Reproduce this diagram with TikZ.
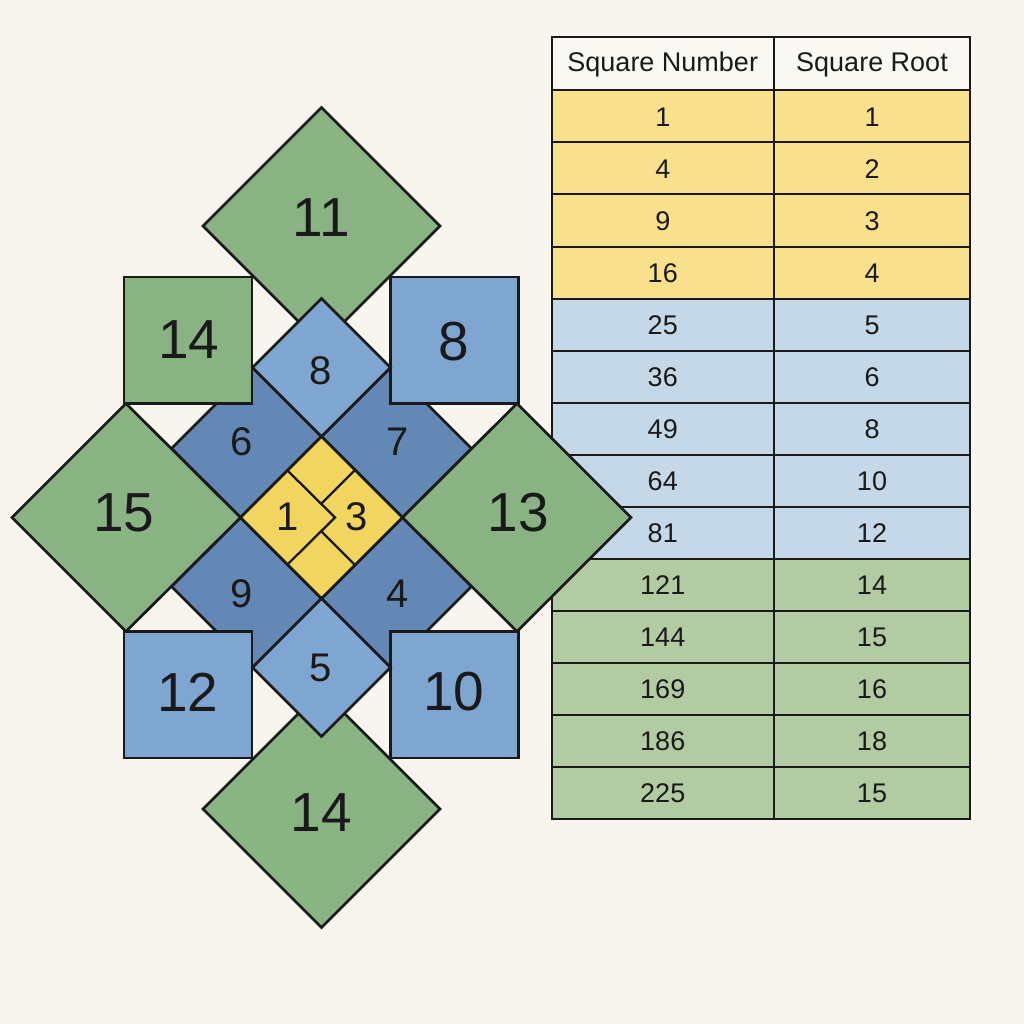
\documentclass[tikz,border=0pt]{standalone}
\usepackage{fontspec}
\setmainfont{Liberation Sans}
\definecolor{bgc}{HTML}{F8F5EE}
\definecolor{ink}{HTML}{1A1A1A}
\definecolor{gr}{HTML}{8AB384}
\definecolor{db}{HTML}{6488B5}
\definecolor{lb}{HTML}{7FA5D1}
\definecolor{ye}{HTML}{F2D55E}
\definecolor{tye}{HTML}{F8E08C}
\definecolor{tbl}{HTML}{C5D8E8}
\definecolor{tgr}{HTML}{B2CBA3}
\definecolor{thd}{HTML}{FAF8F3}
\begin{document}
\begin{tikzpicture}[x=1pt,y=-1pt,
  tile/.style={draw=ink, line width=2.7pt, line join=miter},
  cellbox/.style={draw=ink, line width=2pt},
  thin/.style={draw=ink, line width=2.3pt, line join=miter},
  biglab/.style={font=\fontsize{55}{55}\selectfont, text=ink, inner sep=0pt},
  midlab/.style={font=\fontsize{40}{40}\selectfont, text=ink, inner sep=0pt},
  tablab/.style={font=\fontsize{27}{27}\selectfont, text=ink, inner sep=0pt}]
\useasboundingbox (0,0) rectangle (1024,1024);
\fill[bgc] (0,0) rectangle (1024,1024);

% ---------- table ----------
\path[cellbox, fill=thd] (551.5,37) rectangle (774,90.5);
\path[cellbox, fill=thd] (774,37) rectangle (970,90.5);
\node[tablab] (hA) at (662.75,65) {Square Number};
\node[tablab] (hB) at (872,65) {Square Root};
\foreach \i/\a/\b/\c in {1/1/1/tye,2/4/2/tye,3/9/3/tye,4/16/4/tye,
  5/25/5/tbl,6/36/6/tbl,7/49/8/tbl,8/64/10/tbl,9/81/12/tbl,
  10/121/14/tgr,11/144/15/tgr,12/169/16/tgr,13/186/18/tgr,14/225/15/tgr}{
  \pgfmathsetmacro{\yt}{90.5+52*(\i-1)}
  \pgfmathsetmacro{\yb}{90.5+52*\i}
  \pgfmathsetmacro{\ym}{90.5+52*(\i-0.5)+1}
  \path[cellbox, fill=\c] (551.5,\yt) rectangle (774,\yb);
  \path[cellbox, fill=\c] (774,\yt) rectangle (970,\yb);
  \node[tablab] (ra\i) at (662.75,\ym) {\a};
  \node[tablab] (rb\i) at (872,\ym) {\b};
}

% ---------- outer green diamonds (top / bottom) ----------
\path[tile, fill=gr] (321.5,107.5) -- (440,226) -- (321.5,344.5) -- (203,226) -- cycle;
\path[tile, fill=gr] (321.5,690.5) -- (440,809) -- (321.5,927.5) -- (203,809) -- cycle;

% ---------- dark blue pieces ----------
\path[tile, fill=db] (240.5,517.5) -- (321.5,436.5) -- (252.5,367.5) -- (171.5,448.5) -- cycle;
\path[tile, fill=db] (402.5,517.5) -- (321.5,436.5) -- (390.5,367.5) -- (471.5,448.5) -- cycle;
\path[tile, fill=db] (240.5,517.5) -- (321.5,598.5) -- (252.5,667.5) -- (171.5,586.5) -- cycle;
\path[tile, fill=db] (402.5,517.5) -- (321.5,598.5) -- (390.5,667.5) -- (471.5,586.5) -- cycle;

% ---------- side green diamonds ----------
\path[tile, fill=gr] (126,403.5) -- (240.5,517.5) -- (126,631.5) -- (12,517.5) -- cycle;
\path[tile, fill=gr] (517,403.5) -- (631,517.5) -- (517,631.5) -- (402.5,517.5) -- cycle;

% ---------- squares ----------
\path[tile, fill=gr] (124,277) rectangle (252,403.5);
\path[tile, fill=lb] (390.5,277) rectangle (518.5,403.5);
\path[tile, fill=lb] (124,631.5) rectangle (252,758);
\path[tile, fill=lb] (390.5,631.5) rectangle (518.5,758);

% ---------- light blue small diamonds ----------
\path[tile, fill=lb] (321.5,298.5) -- (390.5,367.5) -- (321.5,436.5) -- (252.5,367.5) -- cycle;
\path[tile, fill=lb] (321.5,598.5) -- (390.5,667.5) -- (321.5,736.5) -- (252.5,667.5) -- cycle;

% ---------- yellow centre ----------
\path[tile, fill=ye] (321.5,436.5) -- (402.5,517.5) -- (321.5,598.5) -- (240.5,517.5) -- cycle;
\draw[thin] (287.5,470.5) -- (335,517.5) -- (287.5,564.5);
\draw[thin] (355,470) -- (321,504);
\draw[thin] (355,565) -- (321.25,531.25);

% ---------- labels ----------
\node[biglab] (l11) at (321.5,218) {11};
\node[biglab] (l14a) at (189,340) {14};
\node[biglab] (l8a) at (454,342) {8};
\node[midlab] (l8b) at (321,371) {8};
\node[midlab] (l6) at (242,442) {6};
\node[midlab] (l7) at (398,442) {7};
\node[biglab] (l15) at (124,513) {15};
\node[midlab] (l1) at (288,517) {1};
\node[midlab] (l3) at (357,517) {3};
\node[biglab] (l13) at (518,513) {13};
\node[midlab] (l9) at (242,594) {9};
\node[midlab] (l4) at (398,594) {4};
\node[biglab] (l12) at (188,692) {12};
\node[midlab] (l5) at (321,668) {5};
\node[biglab] (l10) at (454,692) {10};
\node[biglab] (l14b) at (321.5,813) {14};
\end{tikzpicture}
\end{document}
